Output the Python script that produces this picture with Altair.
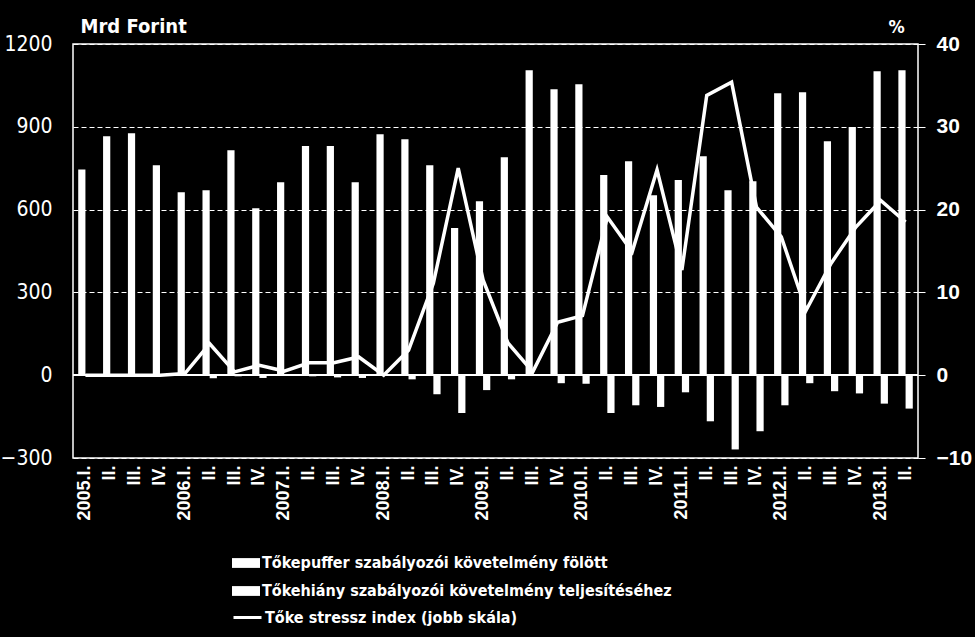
import altair as alt
import pandas as pd

years = ["2005", "2006", "2007", "2008", "2009", "2010", "2011", "2012", "2013"]
romans = ["I", "II", "III", "IV"]
quarters = [f"{y}.{r}." for y in years for r in romans][:34]

puffer = [745, 866, 877, 761, 663, 670, 815, 605, 699, 830, 830, 699, 873, 855, 761, 533,
          630, 790, 1105, 1036, 1054, 725, 775, 652, 707, 793, 670, 703, 1022, 1025, 848, 899,
          1101, 1105]
hiany = [-2, -2, -2, -2, -2, -11, -4, -10, -3, -4, -8, -10, -2, -15, -69, -137,
         -54, -15, -2, -29, -31, -137, -109, -115, -62, -167, -269, -203, -109, -29, -58, -66,
         -103, -121]
stress = [0, 0, 0, 0, 0.2, 3.8, 0.4, 1.2, 0.5, 1.5, 1.5, 2.2, 0, 3.0, 11.1, 25.0,
          11.5, 3.9, 0.4, 6.4, 7.2, 19.1, 14.9, 24.8, 12.7, 33.8, 35.4, 20.3, 16.7, 7.85, 13.5, 17.9,
          21.1, 18.5]

s_puffer = "Tőkepuffer szabályozói követelmény fölött"
s_hiany = "Tőkehiány szabályozói követelmény teljesítéséhez"
s_stress = "Tőke stressz index (jobb skála)"

bars = pd.DataFrame({
    "q": quarters * 2,
    "v": puffer + hiany,
    "s": [s_puffer] * len(quarters) + [s_hiany] * len(quarters),
})
line = pd.DataFrame({"q": quarters, "v": stress, "s": [s_stress] * len(quarters)})

LFONT = "DejaVu Sans Condensed, DejaVu Sans"
RFONT = "Liberation Sans, Arial"

xenc = alt.X(
    "q:N", sort=quarters, title=None,
    scale=alt.Scale(paddingInner=0.42, paddingOuter=0.21),
    axis=alt.Axis(
        labelAngle=-90, labelColor="white", labelFont=RFONT, labelFontSize=18,
        labelFontWeight="bold", ticks=False, domain=False, labelPadding=7,
        labelExpr="split(datum.value, '.')[1] == 'I' ? datum.value : split(datum.value, '.')[1] + '.'",
    ),
)

bar_layer = alt.Chart(bars).mark_bar(color="white").encode(
    x=xenc,
    xOffset=alt.XOffset("s:N", sort=[s_puffer, s_hiany], scale=alt.Scale(paddingInner=0)),
    y=alt.Y(
        "v:Q", title="Mrd Forint",
        scale=alt.Scale(domain=[-300, 1200], nice=False, zero=False),
        axis=alt.Axis(
            values=[-300, 0, 300, 600, 900, 1200], format="d", ticks=False, domain=False,
            labelColor="white", labelFont=LFONT, labelFontSize=21, labelPadding=21,
            grid=True, gridColor="white", gridDash=[5, 3], gridWidth=1,
            titleColor="white", titleFont=LFONT, titleFontSize=20, titleFontWeight="bold",
            titleAngle=0, titleAlign="left", titleBaseline="alphabetic", titleX=7, titleY=-12,
        ),
    ),
    fill=alt.Fill(
        "s:N", sort=[s_puffer, s_hiany],
        scale=alt.Scale(domain=[s_puffer, s_hiany], range=["white", "white"]),
        legend=alt.Legend(
            title=None, orient="none", legendX=159, legendY=505,
            symbolType="M-1,-0.35L1,-0.35L1,0.35L-1,0.35Z", symbolSize=784,
            symbolStrokeWidth=0, labelColor="white", labelFont=LFONT, labelFontSize=16,
            labelFontWeight="bold", labelOffset=2, rowPadding=6, labelLimit=600,
        ),
    ),
)

zero_rule = alt.Chart(line).mark_rule(color="white", strokeWidth=1.5).encode(
    y=alt.datum(0, type="quantitative")
)

line_layer = alt.Chart(line).mark_line(strokeWidth=3.5).encode(
    x=alt.X("q:N", sort=quarters),
    y=alt.Y(
        "v:Q", title="%",
        scale=alt.Scale(domain=[-10, 40], nice=False, zero=False),
        axis=alt.Axis(
            orient="right", values=[-10, 0, 10, 20, 30, 40], grid=False, domain=False,
            ticks=True, tickSize=7, tickColor="white", tickWidth=1,
            labelColor="white", labelFont=RFONT, labelFontSize=21, labelFontWeight="bold",
            labelPadding=11,
            titleColor="white", titleFont=LFONT, titleFontSize=18, titleFontWeight="bold",
            titleAngle=0, titleAlign="center", titleBaseline="alphabetic", titleX=-22, titleY=-12,
        ),
    ),
    stroke=alt.Stroke(
        "s:N",
        scale=alt.Scale(domain=[s_stress], range=["white"]),
        legend=alt.Legend(
            title=None, orient="none", legendX=159, legendY=558,
            symbolType="M-1,0L1,0", symbolSize=784, symbolStrokeWidth=3,
            labelColor="white", labelFont=LFONT, labelFontSize=16,
            labelFontWeight="bold", labelOffset=2, labelLimit=600,
        ),
    ),
)

left = alt.layer(bar_layer, zero_rule)
chart = alt.layer(left, line_layer).resolve_scale(y="independent").properties(
    width=845, height=414,
    background="black",
    autosize=alt.AutoSizeParams(type="none"),
    padding={"left": 73, "top": 44, "right": 57, "bottom": 179},
).configure_view(stroke="white", strokeWidth=1.5)

chart.save("out.html", embed_options={"renderer": "svg", "actions": False})
